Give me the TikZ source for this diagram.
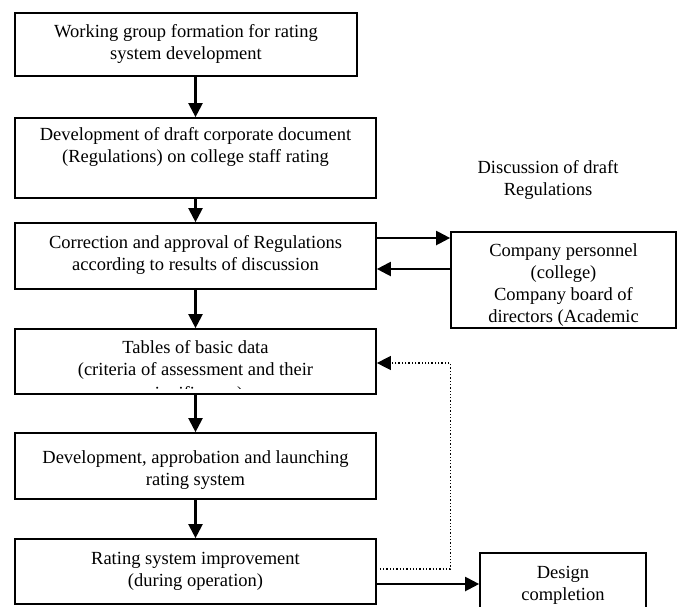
\documentclass[tikz,border=0pt]{standalone}
\usepackage{fontspec}
\setmainfont{Liberation Serif}
\usetikzlibrary{arrows.meta,calc}
\begin{document}
\begin{tikzpicture}[x=1pt,y=-1pt,
  box/.style={draw,line width=1.7pt,rectangle,inner sep=0pt},
  txt/.style={align=center,inner sep=0pt,font=\fontsize{18.5}{22}\selectfont},
  arr/.style={line width=2.2pt,-{Triangle[length=14pt,width=14pt]}},
  dotarr/.style={line width=1.3pt,dotted,-{Triangle[length=14pt,width=14pt]}}]
\clip (0,0) rectangle (680,606);
% boxes
\node[box,minimum width=342pt,minimum height=63pt] (b1) at (186,44.5) {};
\node[box,minimum width=361pt,minimum height=80pt] (b2) at (195.5,158) {};
\node[box,minimum width=361pt,minimum height=66pt] (b3) at (195.5,256) {};
\node[box,minimum width=361pt,minimum height=65pt] (b4) at (195.5,361.5) {};
\node[box,minimum width=361pt,minimum height=66pt] (b5) at (195.5,466) {};
\node[box,minimum width=361pt,minimum height=65pt] (b6) at (195.5,571.5) {};
\node[box,minimum width=225pt,minimum height=96pt] (cp) at (563.5,280) {};
\node[box,minimum width=166pt,minimum height=58pt] (dc) at (563,582) {};
% texts
\node[txt] (t1) at (186,44) {Working group formation for rating\\system development};
\node[txt] (t2) at (195.5,147) {Development of draft corporate document\\(Regulations) on college staff rating};
\node[txt] (t3) at (195.5,255) {Correction and approval of Regulations\\according to results of discussion};
\node[txt] (t4) at (195.5,360) {Tables of basic data\\(criteria of assessment and their};
\begin{scope}
\clip (15,329) rectangle (376,388);
\node[txt] (t4b) at (195.5,395) {significance)};
\end{scope}
\node[txt] (t5) at (195.5,470.5) {Development, approbation and launching\\rating system};
\node[txt] (t6) at (195.5,571) {Rating system improvement\\(during operation)};
\node[txt] (tc) at (563.5,285.5) {Company personnel\\(college)\\Company board of\\directors (Academic};
\node[txt] (td) at (563,585) {Design\\completion};
\node[txt] (disc) at (548,179.5) {Discussion of draft\\Regulations};
% arrows
\draw[arr] (b1.south -| b2.north) -- (b2.north);
\draw[arr] (b2.south) -- (b3.north);
\draw[arr] (b3.south) -- (b4.north);
\draw[arr] (b4.south) -- (b5.north);
\draw[arr] (b5.south) -- (b6.north);
\draw[arr] ([yshift=18pt]b3.east) coordinate (a1) -- (a1 -| cp.west);
\draw[arr] ([yshift=11pt]cp.west) coordinate (a2) -- (a2 -| b3.east);
\coordinate (d2) at ([yshift=-1.5pt]b4.east);
\draw[dotarr] ([xshift=3pt,yshift=2.5pt]b6.east) coordinate (d1) -- (d1 -| cp.west) -- (cp.west |- d2) -- (d2);
\draw[arr] ([yshift=-12.5pt]b6.east) coordinate (a3) -- (a3 -| dc.west);
\end{tikzpicture}
\end{document}
